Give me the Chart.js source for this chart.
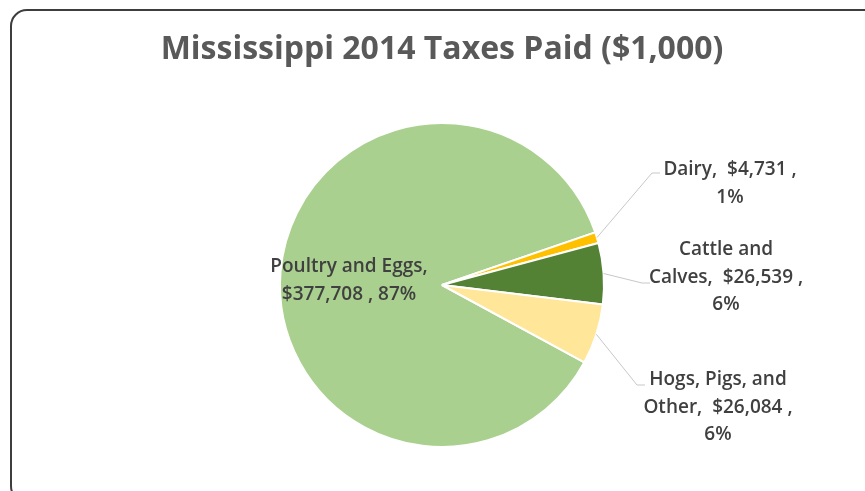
<!DOCTYPE html>
<html>
<head>
<meta charset="utf-8">
<script src="https://cdn.jsdelivr.net/npm/chart.js@4.4.1/dist/chart.umd.min.js"></script>
<style>
  html, body { margin: 0; padding: 0; background: #fff; }
  #wrap { width: 865px; height: 491px; position: relative; }
</style>
</head>
<body>
<div id="wrap"><canvas id="myChart"></canvas></div>
<script>
// data for the pie
var categories = ["Poultry and Eggs", "Dairy", "Cattle and Calves", "Hogs, Pigs, and Other"];
var taxValues = [377708, 4731, 26539, 26084];
var sliceColors = ["#A9D08E", "#FFC000", "#548235", "#FFE699"];
// data label text, lines as they wrap in the picture
var labelLines = [
  ["Poultry and Eggs,", "$377,708 , 87%"],
  ["Dairy,  $4,731 ,", "1%"],
  ["Cattle and", "Calves,  $26,539 ,", "6%"],
  ["Hogs, Pigs, and", "Other,  $26,084 ,", "6%"]
];

// where each label sits, relative to pie center (dx, dy of first line) + leader elbow
var labelPlace = [
  { dx: -93, dy: -18, line: null },
  { dx: 288, dy: -115, line: [210, -112, 218] },
  { dx: 284, dy: -35, line: [200, -2, 208] },
  { dx: 276, dy: 95, line: [195, 100, 203] }
];

// outer frame
var framePlugin = {
  id: 'frame',
  beforeDraw: function(chart) {
    var ctx = chart.ctx;
    ctx.save();
    ctx.fillStyle = '#fff';
    ctx.fillRect(0, 0, chart.width, chart.height);
    ctx.strokeStyle = '#3d3d3d';
    ctx.lineWidth = 2;
    ctx.beginPath();
    ctx.roundRect(11, 10, 870, 492, 16);
    ctx.stroke();
    ctx.restore();
  }
};

// data labels + leader lines
var labelPlugin = {
  id: 'pieLabels',
  afterDatasetsDraw: function(chart) {
    var ctx = chart.ctx;
    var arcs = chart.getDatasetMeta(0).data;
    ctx.save();
    ctx.font = '600 19px "Open Sans"';
    ctx.fillStyle = '#404040';
    ctx.textAlign = 'center';
    ctx.textBaseline = 'middle';
    arcs.forEach(function(arc, i) {
      var p = labelPlace[i];
      var cx = arc.x, cy = arc.y;
      if (p.line) {
        var mid = (arc.startAngle + arc.endAngle) / 2;
        var r = arc.outerRadius;
        ctx.strokeStyle = '#c8c8c8';
        ctx.lineWidth = 1;
        ctx.beginPath();
        ctx.moveTo(cx + Math.cos(mid) * r, cy + Math.sin(mid) * r);
        ctx.lineTo(cx + p.line[0], cy + p.line[1]);
        ctx.lineTo(cx + p.line[2], cy + p.line[1]);
        ctx.stroke();
      }
      labelLines[i].forEach(function(t, k) {
        ctx.fillText(t, cx + p.dx, cy + p.dy + k * 27.5);
      });
    });
    ctx.restore();
  }
};

new Chart("myChart", {
  type: "pie",
  data: {
    labels: categories,
    datasets: [{
      data: taxValues,
      backgroundColor: sliceColors,
      borderColor: "#ffffff",
      borderWidth: 2
    }]
  },
  options: {
    responsive: true,
    maintainAspectRatio: false,
    animation: false,
    rotation: 118.5,
    layout: { padding: { left: 100, right: 81, top: 0, bottom: 43 } },
    plugins: {
      legend: { display: false },
      tooltip: { enabled: false },
      title: {
        display: true,
        text: "Mississippi 2014 Taxes Paid ($1,000)",
        color: "#595959",
        font: { family: "Open Sans", size: 32, weight: "bold" },
        padding: { top: 31, bottom: 52.6 }
      }
    }
  },
  plugins: [framePlugin, labelPlugin]
});
</script>
</body>
</html>
